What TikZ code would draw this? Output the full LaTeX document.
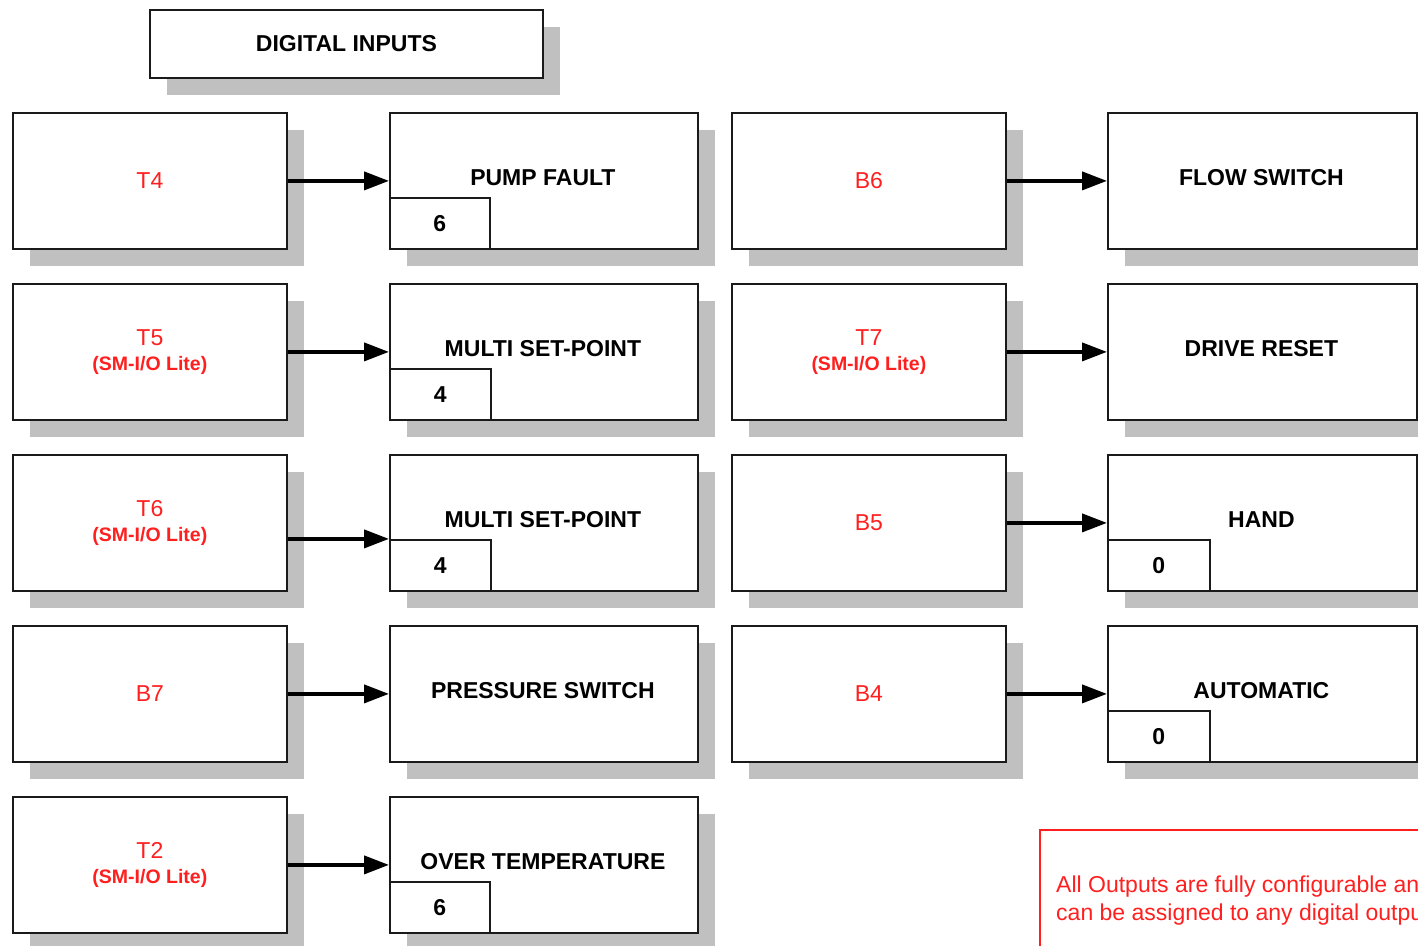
\documentclass[tikz,border=0pt]{standalone}
\usepackage{fontspec}
\setmainfont{Liberation Sans}
\usetikzlibrary{arrows.meta,shadows,calc}
\definecolor{shgray}{HTML}{C0C0C0}
\definecolor{txtred}{HTML}{FF1F1F}
\definecolor{edge}{HTML}{1A1A1A}
\begin{document}
\begin{tikzpicture}[x=1pt,y=-1pt,
  shbox/.style={draw=edge, line width=1.8pt, fill=white, inner sep=0pt, anchor=north west,
    general shadow={fill=shgray, shadow xshift=17pt, shadow yshift=-17pt}},
  inbox/.style={shbox, minimum width=274pt, minimum height=136pt, align=center,
    text=txtred, font=\fontsize{23}{25}\selectfont},
  outbox/.style={shbox, minimum width=308pt, minimum height=136pt},
  numbox/.style={draw=edge, line width=1.5pt, fill=white, inner sep=0pt, anchor=south west,
    minimum width=101pt, minimum height=51pt, font=\fontsize{23}{26}\selectfont\bfseries},
  lbl/.style={font=\fontsize{23}{26}\selectfont\bfseries, text=black, inner sep=0pt},
  arr/.style={line width=3.8pt, -{Triangle[length=25pt,width=18pt]}},
]
\useasboundingbox (0,0) rectangle (1418,945);
\clip (0,0) rectangle (1418,945);
\newcommand{\subl}[1]{{\fontsize{19.5}{22}\selectfont\bfseries #1}}

% title
\node[shbox, minimum width=393pt, minimum height=68pt, font=\fontsize{23}{26}\selectfont\bfseries] (title) at (149,9) {DIGITAL INPUTS};

% inputs column 1
\node[inbox] (t4) at (12,112) {T4};
\node[inbox] (t5) at (12,283) {T5\\[0pt]\subl{(SM-I/O Lite)}};
\node[inbox] (t6) at (12,454) {T6\\[0pt]\subl{(SM-I/O Lite)}};
\node[inbox] (b7) at (12,625) {B7};
\node[inbox] (t2) at (12,796) {T2\\[0pt]\subl{(SM-I/O Lite)}};

% outputs column 2
\node[outbox] (pf) at (389,112) {};
\node[outbox] (ms1) at (389,283) {};
\node[outbox] (ms2) at (389,454) {};
\node[outbox] (ps) at (389,625) {};
\node[outbox] (ot) at (389,796) {};

% inputs column 3
\node[inbox] (b6) at (731,112) {B6};
\node[inbox] (t7) at (731,283) {T7\\[0pt]\subl{(SM-I/O Lite)}};
\node[inbox] (b5) at (731,454) {B5};
\node[inbox] (b4) at (731,625) {B4};

% outputs column 4
\node[outbox, minimum width=309pt] (fs) at (1107,112) {};
\node[outbox, minimum width=309pt] (dr) at (1107,283) {};
\node[outbox, minimum width=309pt] (hd) at (1107,454) {};
\node[outbox, minimum width=309pt] (au) at (1107,625) {};

% output labels
\node[lbl] (pfl) at ($(pf.north)+(-1,66)$) {PUMP FAULT};
\node[lbl] (ms1l) at ($(ms1.north)+(-1,66)$) {MULTI SET-POINT};
\node[lbl] (ms2l) at ($(ms2.north)+(-1,66)$) {MULTI SET-POINT};
\node[lbl] (psl) at ($(ps.north)+(-1,66)$) {PRESSURE SWITCH};
\node[lbl] (otl) at ($(ot.north)+(-1,66)$) {OVER TEMPERATURE};
\node[lbl] (fsl) at ($(fs.north)+(-1,66)$) {FLOW SWITCH};
\node[lbl] (drl) at ($(dr.north)+(-1,66)$) {DRIVE RESET};
\node[lbl] (hdl) at ($(hd.north)+(-1,66)$) {HAND};
\node[lbl] (aul) at ($(au.north)+(-1,66)$) {AUTOMATIC};

% number boxes
\node[numbox, minimum width=100pt] (pfn) at (pf.south west) {6};
\node[numbox] (ms1n) at (ms1.south west) {4};
\node[numbox] (ms2n) at (ms2.south west) {4};
\node[numbox, minimum width=100pt] (otn) at (ot.south west) {6};
\node[numbox, minimum width=102pt] (hdn) at (hd.south west) {0};
\node[numbox, minimum width=102pt] (aun) at (au.south west) {0};

% arrows
\draw[arr] (t4.east) -- (pf.west);
\draw[arr] (t5.east) -- (ms1.west);
\draw[arr] ($(t6.east)+(0,16)$) -- ($(ms2.west)+(0,16)$);
\draw[arr] (b7.east) -- (ps.west);
\draw[arr] (t2.east) -- (ot.west);
\draw[arr] (b6.east) -- (fs.west);
\draw[arr] (t7.east) -- (dr.west);
\draw[arr] (b5.east) -- (hd.west);
\draw[arr] (b4.east) -- (au.west);

% note
\node[draw=txtred, line width=1.8pt, inner sep=0pt, anchor=north west,
  minimum width=420pt, minimum height=150pt] (note) at (1039,829) {};
\node[anchor=west, align=left, text=txtred, inner sep=0pt,
  font=\fontsize{23}{28}\selectfont] (notetxt) at (1056,901)
  {All Outputs are fully configurable and\\can be assigned to any digital outputs};
\end{tikzpicture}
\end{document}
